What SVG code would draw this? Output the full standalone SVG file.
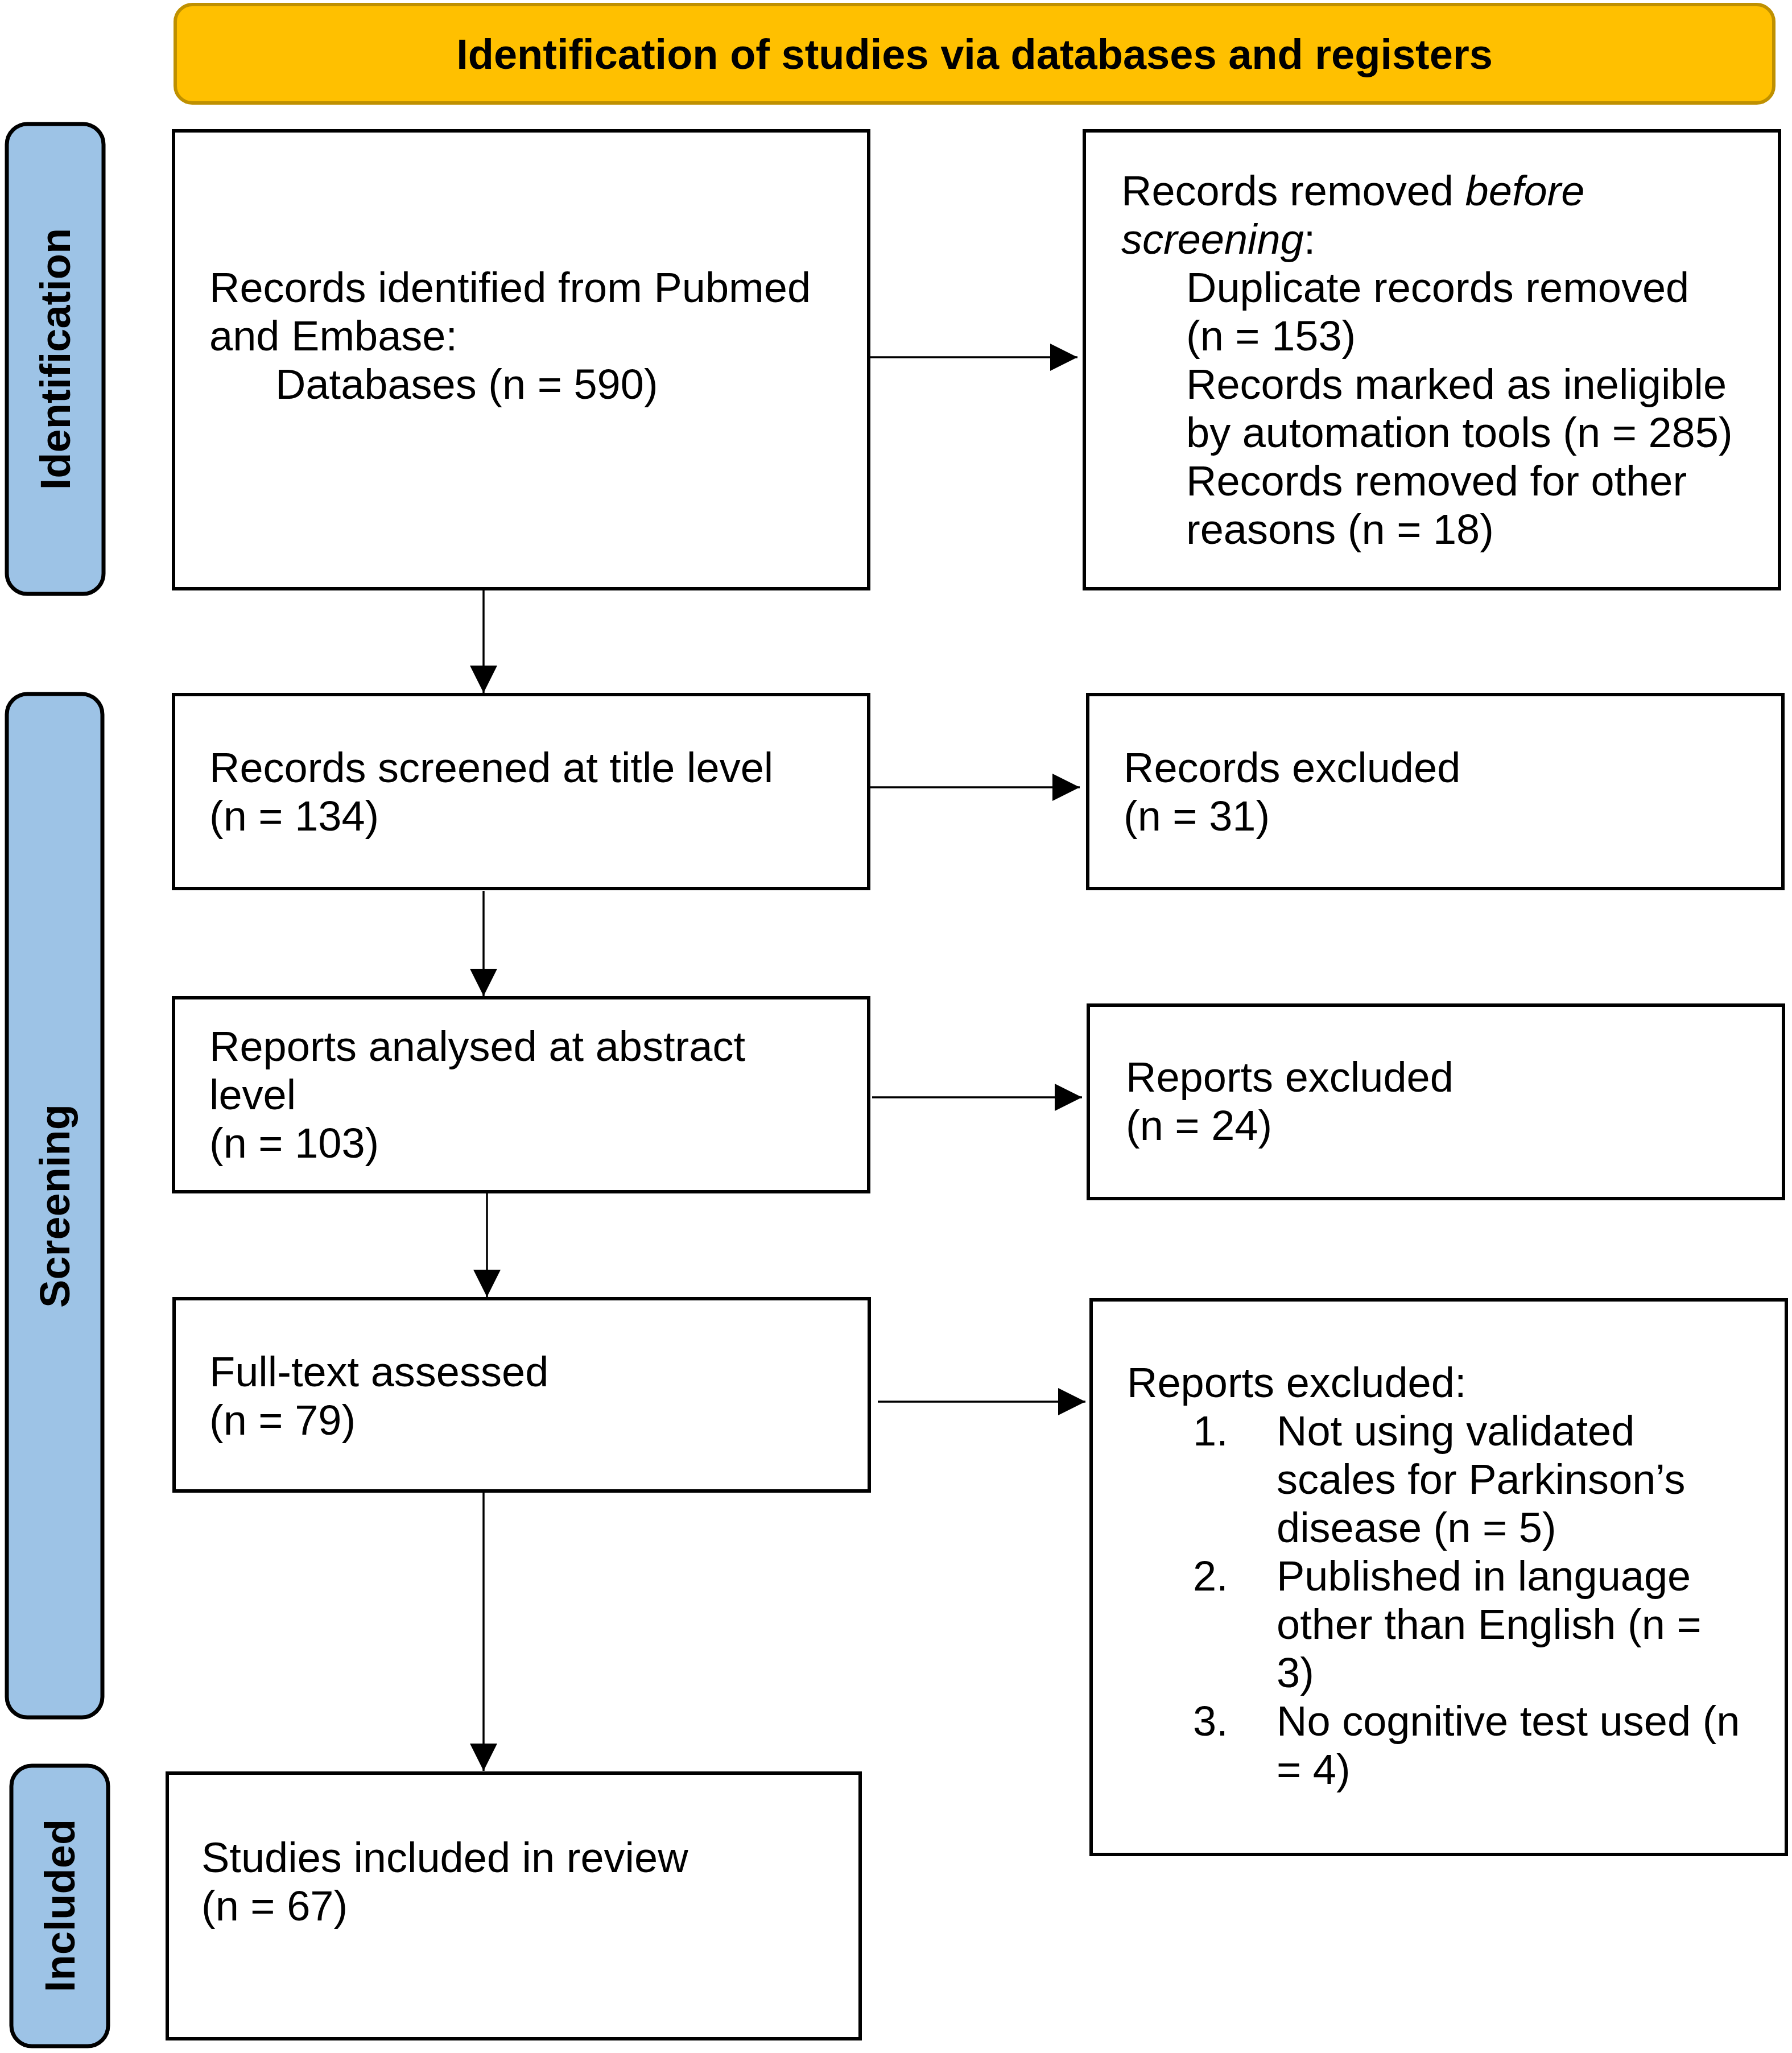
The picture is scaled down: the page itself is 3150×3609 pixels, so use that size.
<svg xmlns="http://www.w3.org/2000/svg" width="3150" height="3609" viewBox="0 0 3150 3609">
<style>
.box{fill:#fff;stroke:#000;stroke-width:6}
.phase{fill:#9DC3E6;stroke:#000;stroke-width:7}
.t{font-family:"Liberation Sans",Arial,sans-serif;font-size:74px;fill:#000}
.pl{font-family:"Liberation Sans",Arial,sans-serif;font-size:74px;font-weight:bold;fill:#000;text-anchor:middle;dominant-baseline:central}
.c{stroke:#000;stroke-width:3.5;fill:none;marker-end:url(#ah)}
</style>
<defs>
<marker id="ah" markerUnits="userSpaceOnUse" markerWidth="48" markerHeight="48" refX="48" refY="24" orient="auto" viewBox="0 0 48 48">
<path d="M0,0 L48,24 L0,48 Z" fill="#000"/>
</marker>
</defs>
<rect width="3150" height="3609" fill="#fff"/>
<g id="header">
<rect x="308" y="8" width="2810" height="173" rx="30" fill="#FFC000" stroke="#BF9000" stroke-width="6"/>
<text x="1713" y="121" class="t" font-weight="bold" text-anchor="middle">Identification of studies via databases and registers</text>
</g>
<g id="phase-identification">
<rect class="phase" x="12" y="218" width="170" height="826" rx="36"/>
<text class="pl" transform="translate(97,631) rotate(-90)">Identification</text>
</g>
<g id="phase-screening">
<rect class="phase" x="12" y="1220" width="168" height="1799" rx="36"/>
<text class="pl" transform="translate(96,2120) rotate(-90)">Screening</text>
</g>
<g id="phase-included">
<rect class="phase" x="20" y="3104" width="170" height="493" rx="36"/>
<text class="pl" transform="translate(105,3350) rotate(-90)">Included</text>
</g>
<g id="connectors">
<line class="c" x1="1527" y1="628" x2="1894" y2="628"/>
<line class="c" x1="850" y1="1035" x2="850" y2="1218"/>
<line class="c" x1="1527" y1="1384" x2="1898" y2="1384"/>
<line class="c" x1="850" y1="1566" x2="850" y2="1751"/>
<line class="c" x1="1533" y1="1929" x2="1902" y2="1929"/>
<line class="c" x1="856" y1="2095" x2="856" y2="2280"/>
<line class="c" x1="1543" y1="2464" x2="1908" y2="2464"/>
<line class="c" x1="850" y1="2621" x2="850" y2="3113"/>
</g>
<g id="n1">
<rect class="box" x="305" y="230" width="1222" height="805"/>
<text class="t" x="368" y="531">Records identified from Pubmed</text>
<text class="t" x="368" y="616">and Embase:</text>
<text class="t" x="484" y="701">Databases (n = 590)</text>
</g>
<g id="n2">
<rect class="box" x="1906" y="230" width="1222" height="805"/>
<text class="t" x="1971" y="361">Records removed <tspan font-style="italic">before</tspan></text>
<text class="t" x="1971" y="446"><tspan font-style="italic">screening</tspan>:</text>
<text class="t" x="2085" y="531">Duplicate records removed</text>
<text class="t" x="2085" y="616">(n = 153)</text>
<text class="t" x="2085" y="701">Records marked as ineligible</text>
<text class="t" x="2085" y="786">by automation tools (n = 285)</text>
<text class="t" x="2085" y="871">Records removed for other</text>
<text class="t" x="2085" y="956">reasons (n = 18)</text>
</g>
<g id="n3">
<rect class="box" x="305" y="1221" width="1222" height="341"/>
<text class="t" x="368" y="1375">Records screened at title level</text>
<text class="t" x="368" y="1460">(n = 134)</text>
</g>
<g id="n4">
<rect class="box" x="1912" y="1221" width="1222" height="341"/>
<text class="t" x="1975" y="1375">Records excluded</text>
<text class="t" x="1975" y="1460">(n = 31)</text>
</g>
<g id="n5">
<rect class="box" x="305" y="1754" width="1222" height="341"/>
<text class="t" x="368" y="1865">Reports analysed at abstract</text>
<text class="t" x="368" y="1950">level</text>
<text class="t" x="368" y="2035">(n = 103)</text>
</g>
<g id="n6">
<rect class="box" x="1913" y="1767" width="1222" height="340"/>
<text class="t" x="1979" y="1919">Reports excluded</text>
<text class="t" x="1979" y="2004">(n = 24)</text>
</g>
<g id="n7">
<rect class="box" x="306" y="2283" width="1222" height="338"/>
<text class="t" x="368" y="2437">Full-text assessed</text>
<text class="t" x="368" y="2522">(n = 79)</text>
</g>
<g id="n8">
<rect class="box" x="1918" y="2285" width="1222" height="975"/>
<text class="t" x="1981" y="2456">Reports excluded:</text>
<text class="t" x="2097" y="2541">1.</text>
<text class="t" x="2244" y="2541">Not using validated</text>
<text class="t" x="2244" y="2626">scales for Parkinson’s</text>
<text class="t" x="2244" y="2711">disease (n = 5)</text>
<text class="t" x="2097" y="2796">2.</text>
<text class="t" x="2244" y="2796">Published in language</text>
<text class="t" x="2244" y="2881">other than English (n =</text>
<text class="t" x="2244" y="2966">3)</text>
<text class="t" x="2097" y="3051">3.</text>
<text class="t" x="2244" y="3051">No cognitive test used (n</text>
<text class="t" x="2244" y="3136">= 4)</text>
</g>
<g id="n9">
<rect class="box" x="294" y="3117" width="1218" height="467"/>
<text class="t" x="354" y="3291">Studies included in review</text>
<text class="t" x="354" y="3376">(n = 67)</text>
</g>
</svg>
